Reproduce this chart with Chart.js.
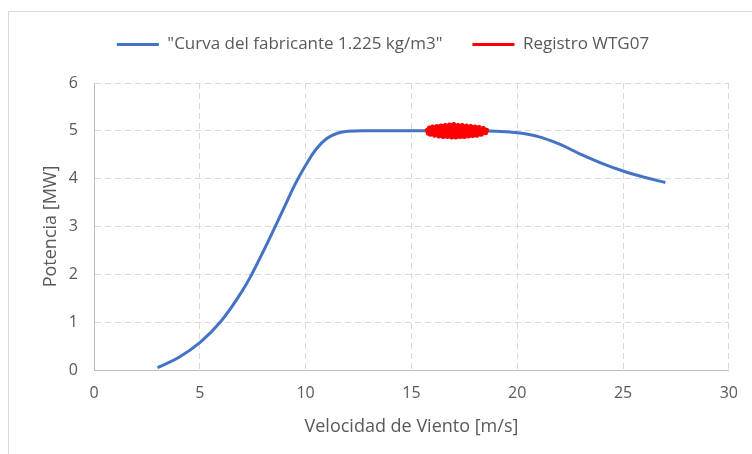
<!DOCTYPE html>
<html>
<head>
<meta charset="utf-8">
<script src="https://cdn.jsdelivr.net/npm/chart.js"></script>
<style>
  html, body { margin: 0; padding: 0; background: #fff; }
  #wrap { position: relative; width: 752px; height: 454px; }
  #frame { position: absolute; left: 8px; top: 11px; right: 0; bottom: 0;
           border-top: 1px solid #d9d9d9; border-left: 1px solid #d9d9d9; }
  #c { position: absolute; left: 0; top: 0; }
</style>
</head>
<body>
<div id="wrap">
  <div id="frame"></div>
  <canvas id="c" width="752" height="454"></canvas>
</div>
<script>
/* ---------- DATA ---------- */
// manufacturer power curve (wind speed m/s -> MW)
const curveSpeed = [3, 4, 5, 6, 7, 7.5, 8, 8.5, 9, 9.5, 10, 10.5, 11, 11.5, 12, 13, 14, 15, 16, 17, 18, 19, 20, 21, 22, 23, 24, 25, 26, 27];
const curvePower = [0.05, 0.26, 0.57, 1.02, 1.65, 2.04, 2.48, 2.94, 3.41, 3.88, 4.28, 4.62, 4.84, 4.95, 4.99, 5.0, 5.0, 5.0, 5.0, 5.0, 5.0, 4.99, 4.96, 4.88, 4.72, 4.51, 4.32, 4.16, 4.03, 3.92];

// WTG07 records (dense cloud around rated power)
const recSpeed = [15.75, 15.8, 15.85, 15.9, 16.0, 16.1, 16.2, 16.3, 16.4, 16.5, 16.6, 16.7, 16.8, 16.9, 17.0, 17.1, 17.2, 17.3, 17.4, 17.5, 17.6, 17.7, 17.8, 17.9, 18.0, 18.1, 18.2, 18.3, 18.4, 18.5, 18.55,
                  18.45, 18.25, 18.05, 17.85, 17.65, 17.45, 17.25, 17.05, 16.85, 16.65, 16.45, 16.25, 16.05, 15.85];
const recPower = [5.01, 4.95, 5.06, 4.93, 5.08, 4.91, 5.09, 4.89, 5.1, 4.88, 5.11, 4.88, 5.12, 4.87, 5.13, 4.87, 5.11, 4.88, 5.11, 4.88, 5.1, 4.89, 5.09, 4.9, 5.08, 4.91, 5.07, 4.93, 5.05, 4.96, 5.01,
                  5.0, 4.97, 5.03, 4.95, 5.05, 4.96, 5.04, 4.95, 5.05, 4.96, 5.04, 4.96, 5.03, 4.98];

const xTicks = [0, 5, 10, 15, 20, 25, 30];
const yTicks = [0, 1, 2, 3, 4, 5, 6];

const curveLabel = '"Curva del fabricante 1.225 kg/m3"';
const recLabel = 'Registro WTG07';

/* ---------- CHART ---------- */
const txt = '#595959';
const font = "'Open Sans', 'Liberation Sans', sans-serif";

const legendSpace = {
  id: 'legendSpace',
  beforeInit(chart) {
    const fit = chart.legend.fit;
    chart.legend.fit = function () {
      fit.bind(chart.legend)();
      this.height += 20;
    };
  }
};

const baseLabels = Chart.defaults.plugins.legend.labels.generateLabels;

new Chart(document.getElementById('c'), {
  type: 'scatter',
  data: {
    datasets: [
      {
        label: curveLabel,
        data: curveSpeed.map((x, i) => ({ x: x, y: curvePower[i] })),
        showLine: true,
        borderColor: '#4472c4',
        backgroundColor: '#4472c4',
        borderWidth: 3,
        pointRadius: 0,
        tension: 0.4,
        order: 2
      },
      {
        label: recLabel,
        data: recSpeed.map((x, i) => ({ x: x, y: recPower[i] })),
        showLine: true,
        borderColor: '#ff0000',
        backgroundColor: '#ff0000',
        borderWidth: 4,
        borderJoinStyle: 'round',
        borderCapStyle: 'round',
        pointRadius: 2.5,
        pointBorderWidth: 0,
        tension: 0,
        order: 1
      }
    ]
  },
  options: {
    responsive: false,
    animation: false,
    layout: { padding: { left: 36, right: 22, top: 6, bottom: 12 } },
    plugins: {
      tooltip: { enabled: false },
      legend: {
        position: 'top',
        labels: {
          color: txt,
          font: { family: font, size: 17 },
          boxWidth: 42,
          boxHeight: 3,
          padding: 30,
          sort: (a, b) => a.datasetIndex - b.datasetIndex,
          generateLabels: chart => baseLabels(chart).map(l => Object.assign(l, { lineWidth: 0 }))
        }
      }
    },
    scales: {
      x: {
        type: 'linear',
        min: 0,
        max: 30,
        afterBuildTicks: s => { s.ticks = xTicks.map(v => ({ value: v })); },
        afterFit: s => { s.height = 72; },
        ticks: { color: txt, font: { family: font, size: 16 }, padding: 14 },
        grid: { color: '#d9d9d9', drawTicks: false },
        border: { display: true, color: '#bfbfbf', dash: [6, 4] },
        title: { display: true, text: 'Velocidad de Viento [m/s]', color: txt,
                 font: { family: font, size: 18 }, padding: { top: 6 } }
      },
      y: {
        type: 'linear',
        min: 0,
        max: 6,
        afterBuildTicks: s => { s.ticks = yTicks.map(v => ({ value: v })); },
        afterFit: s => { s.width = 58; },
        ticks: { color: txt, font: { family: font, size: 16 }, padding: 16 },
        grid: { color: '#d9d9d9', drawTicks: false },
        border: { display: true, color: '#bfbfbf', dash: [6, 4] },
        title: { display: true, text: 'Potencia [MW]', color: txt,
                 font: { family: font, size: 18 }, padding: { bottom: 4 } }
      }
    }
  },
  plugins: [legendSpace]
});
</script>
</body>
</html>
